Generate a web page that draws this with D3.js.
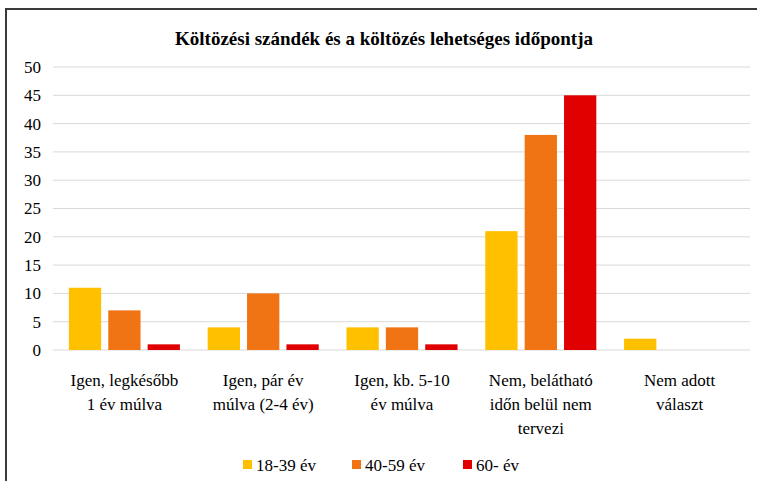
<!DOCTYPE html>
<html>
<head>
<meta charset="utf-8">
<script src="https://cdn.jsdelivr.net/npm/d3@7"></script>
<style>
  @font-face { font-family: 'ChartSerif'; src: local('Liberation Serif'), local('LiberationSerif'), local('Liberation Serif Regular'); font-weight: normal; }
  @font-face { font-family: 'ChartSerif'; src: local('Liberation Serif Bold'), local('LiberationSerif-Bold'); font-weight: bold; }
</style>
</head>
<body style="margin:0">
<svg id="chart" width="757" height="481"></svg>
<script>
const categories = [
  ['Igen, legkésőbb', '1 év múlva'],
  ['Igen, pár év', 'múlva (2-4 év)'],
  ['Igen, kb. 5-10', 'év múlva'],
  ['Nem, belátható', 'időn belül nem', 'tervezi'],
  ['Nem adott', 'választ']
]
const series = ['18-39 év', '40-59 év', '60- év']
const colors = ['#FFC000', '#F07414', '#E00000']
const values = [
  [11, 4, 4, 21, 2],
  [7, 10, 4, 38, 0],
  [1, 1, 1, 45, 0]
]
const yTicks = [0, 5, 10, 15, 20, 25, 30, 35, 40, 45, 50]

const serif = d => '"Liberation Serif"'

const svg = d3.select('#chart')

// frame
svg.append('rect')
  .attr('x', 6).attr('y', 9)
  .attr('width', 800).attr('height', 500)
  .attr('fill', 'none')
  .attr('stroke', '#3a3a3a')
  .attr('stroke-width', 2)

svg.append('text')
  .attr('x', 384).attr('y', 45)
  .attr('text-anchor', 'middle')
  .style('font-family', serif)
  .style('font-size', '19px')
  .style('font-weight', 'bold')
  .text('Költözési szándék és a költözés lehetséges időpontja')

const y = d3.scaleLinear().domain([0, 50]).range([350, 67])

const x0 = d3.scaleBand()
  .domain(d3.range(categories.length))
  .range([55, 749])
  .paddingInner(0.2)
  .paddingOuter(0.1)

const x1 = d3.scaleBand()
  .domain(d3.range(series.length))
  .range([0, x0.bandwidth()])
  .paddingInner(0.18)

// grid
svg.append('g')
  .selectAll('line')
  .data(yTicks)
  .join('line')
  .attr('x1', 53).attr('x2', 750)
  .attr('y1', d => y(d)).attr('y2', d => y(d))
  .attr('stroke', '#d9d9d9')
  .attr('stroke-width', 1)

// y labels (text from the axis tick format, placed on the scale)
svg.append('g')
  .selectAll('text')
  .data(yTicks)
  .join('text')
  .attr('x', 41)
  .attr('y', d => y(d))
  .attr('dy', '0.35em')
  .attr('text-anchor', 'end')
  .style('font-family', serif)
  .style('font-size', '17px')
  .text(d => d)

// bars
series.forEach((s, si) => {
  svg.append('g')
    .selectAll('rect')
    .data(values[si])
    .join('rect')
    .attr('x', (d, i) => x0(i) + x1(si))
    .attr('y', d => y(d))
    .attr('width', x1.bandwidth())
    .attr('height', d => y(0) - y(d))
    .attr('fill', colors[si])
})

// category labels, one text per line
const catLines = []
categories.forEach((lines, i) => lines.forEach((t, k) => catLines.push({ t, i, k })))
svg.append('g')
  .selectAll('text')
  .data(catLines)
  .join('text')
  .attr('x', d => x0(d.i) + x0.bandwidth() / 2)
  .attr('y', d => 386 + d.k * 24)
  .attr('text-anchor', 'middle')
  .style('font-family', serif)
  .style('font-size', '17px')
  .text(d => d.t)

// legend
const legendX = [243, 352, 463]
svg.append('g')
  .selectAll('rect')
  .data(series)
  .join('rect')
  .attr('x', (d, i) => legendX[i]).attr('y', 460)
  .attr('width', 9).attr('height', 9)
  .attr('fill', (d, i) => colors[i])
svg.append('g')
  .selectAll('text')
  .data(series)
  .join('text')
  .attr('x', (d, i) => legendX[i] + 13).attr('y', 471)
  .style('font-family', serif)
  .style('font-size', '17px')
  .text(d => d)
</script>
</body>
</html>
